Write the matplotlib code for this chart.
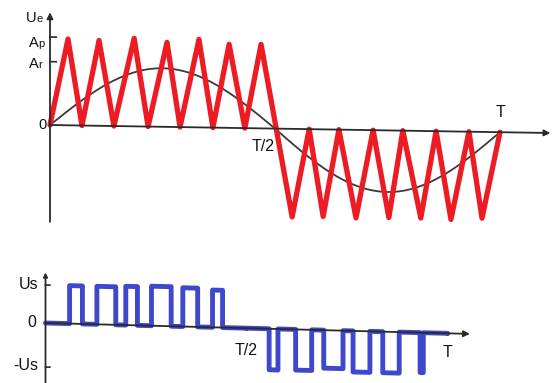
import numpy as np
import matplotlib
matplotlib.use("Agg")
import matplotlib.pyplot as plt
from matplotlib.transforms import Affine2D

plt.rcParams['font.family'] = ['Liberation Sans', 'DejaVu Sans']

# ---------------- top panel data (time in units of T, amplitude in units of Ap)
carrier_t = [0.000, 0.040, 0.071, 0.109, 0.142, 0.187, 0.218, 0.260, 0.289, 0.331,
             0.362, 0.398, 0.433, 0.469, 0.538, 0.576, 0.607, 0.642, 0.680, 0.718,
             0.753, 0.784, 0.824, 0.858, 0.891, 0.931, 0.960, 1.000]
carrier_v = [0.0, 0.98, 0.0, 0.97, 0.0, 1.0, 0.0, 0.96, 0.0, 1.0, 0.0, 0.95, 0.0, 0.955,
             -1.0, 0.0, -0.99, 0.0, -1.0, 0.0, -0.99, 0.0, -0.99, 0.0, -1.0, 0.0, -0.98, 0.0]
sine_amp_pos = 0.665
sine_amp_neg = 0.70
Ap = 1.0
Ar = 0.72
top_time_ticks = [0.5, 1.0]
top_time_labels = ["T/2", "T"]

# ---------------- bottom panel data (time in units of T, level in units of Us)
pwm_edges = [0.000, 0.060, 0.092, 0.128, 0.175, 0.200, 0.229, 0.264, 0.313, 0.342,
             0.379, 0.416, 0.441, 0.557, 0.579, 0.623, 0.663, 0.693, 0.741, 0.766,
             0.808, 0.840, 0.881, 0.933, 0.941, 1.000]
pwm_levels = [0, 1.0, 0, 1.0, 0, 1.02, 0, 1.04, 0, 1.02, 0, 0.98, 0,
              -1.08, 0, -1.07, 0, -1.0, 0, -1.08, 0, -1.08, 0, -1.05, 0]
Us = 1.0
neg_Us_tick = -1.16
bot_time_ticks = [0.5, 1.0]
bot_time_labels = ["T/2", "T"]

RED = '#ed1c24'
BLUE = '#3f48cc'
AX = '#2a2a2a'
TXT = '#111111'
W, H = 552, 383

fig = plt.figure(figsize=(W / 100, H / 100), dpi=100)
fig.patch.set_facecolor('white')


def skewed(ax, k):
    x0, y0 = ax.transData.transform((0, 0))
    m = np.array([[1.0, 0.0, 0.0], [-k, 1.0, k * x0], [0.0, 0.0, 1.0]])
    return ax.transData + Affine2D(m)


def label_with_sub(ax, tr, x, y, main, sub, fs, fs_sub, adv):
    ax.text(x, y, main, fontsize=fs, ha='left', va='baseline', color=TXT, transform=tr)
    ax.annotate(sub, xy=(x, y), xycoords=tr, xytext=(adv * fs, 0), textcoords='offset points',
                fontsize=fs_sub, ha='left', va='baseline', color=TXT)


# ================= top panel =================
ax1 = fig.add_axes([0, 153 / H, 1, 230 / H])
ax1.set_xlim(-50 / 450, 502 / 450)
ax1.set_ylim(-105 / 88, 125 / 88)
ax1.axis('off')
tr1 = skewed(ax1, 0.016)

arrow_kw = dict(arrowstyle='-|>', color=AX, lw=1.3, mutation_scale=9, shrinkA=0, shrinkB=0)
ax1.annotate('', xy=(1.112, 0), xycoords=tr1, xytext=(0, 0), textcoords=tr1, arrowprops=arrow_kw)
ax1.annotate('', xy=(0, 1.28), xycoords=tr1, xytext=(0, -1.10), textcoords=tr1, arrowprops=arrow_kw)
for v in (Ap, Ar):
    ax1.plot([0, 0.014], [v, v], color=AX, lw=1.2, transform=tr1)

ts = np.linspace(0, 1, 400)
s = np.sin(2 * np.pi * ts)
ax1.plot(ts, np.where(s > 0, sine_amp_pos * s, sine_amp_neg * s), color='#3a3a3a', lw=1.3,
         transform=tr1)
ax1.plot(carrier_t, carrier_v, color=RED, lw=3.8, solid_joinstyle='round',
         solid_capstyle='round', transform=tr1)

fs = 10.5
label_with_sub(ax1, tr1, -0.0533, 1.17, 'U', 'e', fs, 8, 0.70)
label_with_sub(ax1, tr1, -0.0467, Ap - 0.114, 'A', 'p', fs, 8, 0.66)
label_with_sub(ax1, tr1, -0.0467, Ar - 0.072, 'A', 'r', fs, 8, 0.66)
ax1.text(-0.007, 0.0, '0', fontsize=fs, ha='right', va='center', color=TXT, transform=tr1)
ax1.text(top_time_ticks[0], -0.25, top_time_labels[0], fontsize=11.5, ha='right',
         va='baseline', color=TXT, transform=tr1)
ax1.text(top_time_ticks[1], 0.17, top_time_labels[1], fontsize=11.5, ha='center',
         va='baseline', color=TXT, transform=tr1)

# ================= bottom panel =================
ax2 = fig.add_axes([0, 0, 1, 153 / H])
ax2.set_xlim(-45.5 / 401.5, (W - 45.5) / 401.5)
ax2.set_ylim(-60 / 38, 93 / 38)
ax2.axis('off')
tr2 = skewed(ax2, 0.0257)

ax2.annotate('', xy=(1.057, 0), xycoords=tr2, xytext=(0, 0), textcoords=tr2, arrowprops=arrow_kw)
ax2.annotate('', xy=(0, 1.33), xycoords=tr2, xytext=(0, -1.62), textcoords=tr2,
             arrowprops=dict(arrowstyle='-|>', color=AX, lw=1.3, mutation_scale=6,
                             shrinkA=0, shrinkB=0))
for v in (Us, neg_Us_tick):
    ax2.plot([0, 0.011], [v, v], color=AX, lw=1.2, transform=tr2)
ax2.plot(bot_time_ticks, [0, 0], 'o', color=AX, ms=2.5, transform=tr2)

ax2.step(pwm_edges, pwm_levels + [pwm_levels[-1]], where='post', color=BLUE, lw=3.5,
         solid_joinstyle='round', solid_capstyle='round', transform=tr2)

fs2 = 11.5
ax2.text(-0.0175, Us - 0.105, 'Us', fontsize=fs2, ha='right', va='baseline', color=TXT, transform=tr2)
ax2.text(-0.022, 0.0, '0', fontsize=fs2, ha='right', va='center', color=TXT, transform=tr2)
ax2.text(-0.0175, neg_Us_tick - 0.08, '-Us', fontsize=fs2, ha='right', va='baseline', color=TXT,
         transform=tr2)
ax2.text(bot_time_ticks[0], -0.71, bot_time_labels[0], fontsize=11.5, ha='center', va='baseline',
         color=TXT, transform=tr2)
ax2.text(bot_time_ticks[1], -0.62, bot_time_labels[1], fontsize=11.5, ha='center', va='baseline',
         color=TXT, transform=tr2)

fig.savefig('out.png', dpi=100, facecolor='white')
